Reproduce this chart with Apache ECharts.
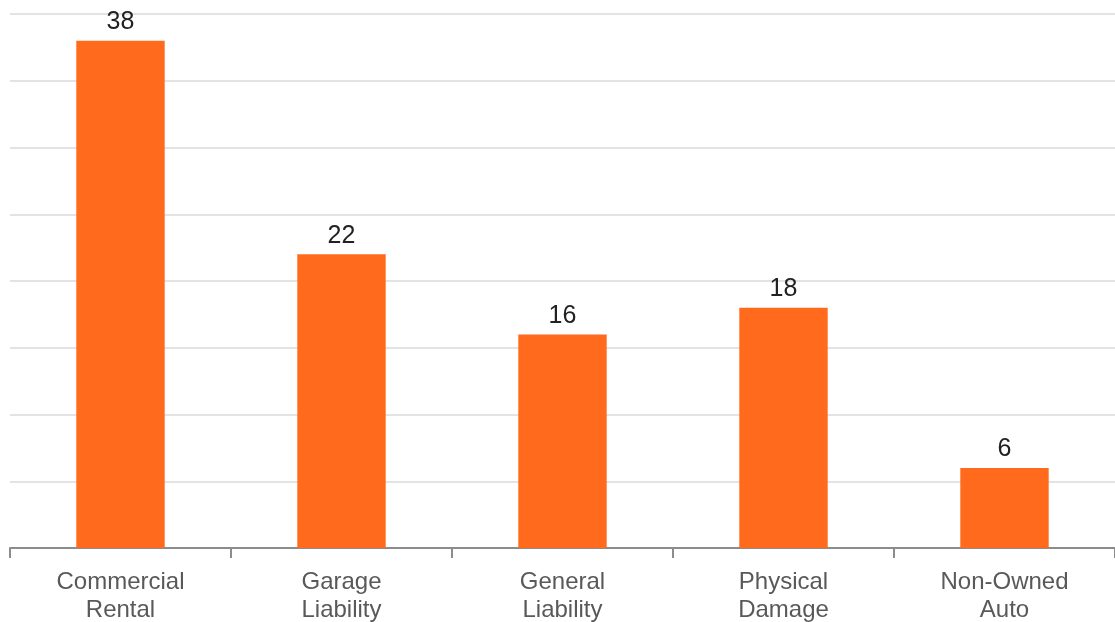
<!DOCTYPE html>
<html>
<head>
<meta charset="utf-8">
<script src="https://cdn.jsdelivr.net/npm/echarts@6/dist/echarts.min.js"></script>
<style>
  html, body { margin: 0; padding: 0; background: #fff; }
  #chart { width: 1115px; height: 622px; }
</style>
</head>
<body>
<div id="chart"></div>
<script>
// Coverage categories and counts
const categories = ['Commercial\nRental', 'Garage\nLiability', 'General\nLiability', 'Physical\nDamage', 'Non-Owned\nAuto'];
const counts = [38, 22, 16, 18, 6];

const chart = echarts.init(document.getElementById('chart'), null, { renderer: 'canvas' });

chart.setOption({
  animation: false,
  backgroundColor: '#ffffff',
  grid: { left: 10, right: 0, top: 14, bottom: 74, containLabel: false, outerBoundsMode: 'none' },
  xAxis: {
    type: 'category',
    data: categories,
    axisLine: { show: true, lineStyle: { color: '#8c8c8c', width: 2 } },
    axisTick: { show: true, length: 10, lineStyle: { color: '#8c8c8c', width: 2 }, alignWithLabel: false },
    axisLabel: {
      color: '#595959',
      fontFamily: '"Liberation Sans", Arial, sans-serif',
      fontSize: 24,
      lineHeight: 28,
      margin: 20,
      interval: 0
    }
  },
  yAxis: {
    type: 'value',
    min: 0,
    max: 40,
    interval: 5,
    axisLine: { show: false },
    axisTick: { show: false },
    axisLabel: { show: false },
    splitLine: { show: true, lineStyle: { color: '#e3e3e3', width: 2 } }
  },
  series: [{
    type: 'bar',
    data: counts,
    barWidth: '40%',
    itemStyle: { color: '#ff6a1c' },
    label: {
      show: true,
      position: 'top',
      distance: 6,
      color: '#222222',
      fontFamily: '"Liberation Sans", Arial, sans-serif',
      fontSize: 25
    }
  }]
});
</script>
</body>
</html>
